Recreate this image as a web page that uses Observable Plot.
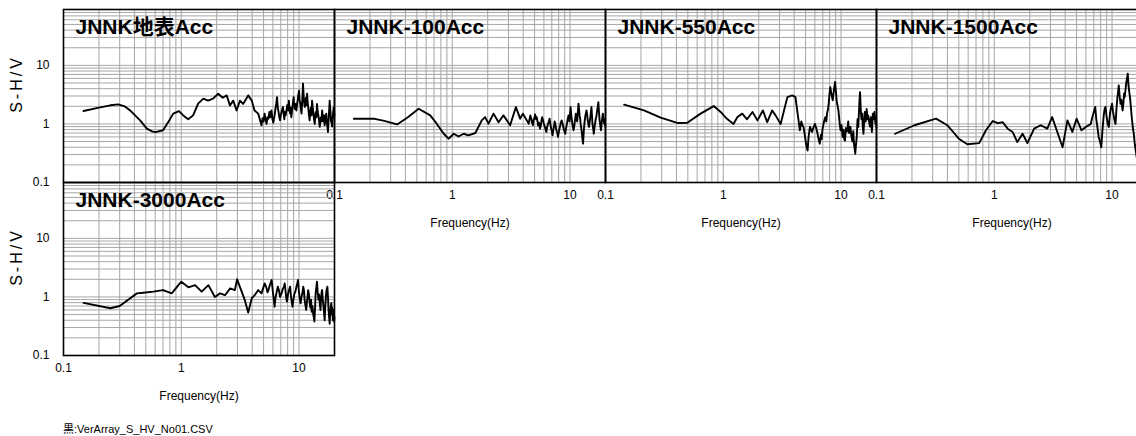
<!DOCTYPE html>
<html><head><meta charset="utf-8">
<script src="https://cdn.jsdelivr.net/npm/d3@7"></script>
<script src="https://cdn.jsdelivr.net/npm/@observablehq/plot@0.6"></script>
<style>
html,body{margin:0;padding:0;background:#fff;overflow:hidden;}
#wrap{position:relative;width:1136px;height:436px;overflow:hidden;font-family:"Liberation Sans","Noto Sans CJK JP",sans-serif;}
#caption{position:absolute;left:63px;top:420px;font-size:11px;color:#000;font-family:"Liberation Sans","Noto Sans CJK JP",sans-serif;}
</style></head><body>
<div id="wrap"><div id="caption"></div></div>
<script>
// ---- text ----
const panelNames = ["JNNK地表Acc", "JNNK-100Acc", "JNNK-550Acc", "JNNK-1500Acc", "JNNK-3000Acc"];
const xLabel = "Frequency(Hz)";
const yLabel = "S-H/V";
const captionText = "黒:VerArray_S_HV_No01.CSV";
const xTicks = [0.1, 1, 10];
const xTickLabels = ["0.1", "1", "10"];
const yTicks = [0.1, 1, 10];
const yTickLabels = ["0.1", "1", "10"];
const xDomain = [0.1, 20];
const yDomain = [0.1, 90];

// ---- series: [frequency (Hz), S-H/V] ----
const surface = [[0.148,1.66],[0.2,1.9],[0.25,2.08],[0.292,2.16],[0.33,2.0],[0.368,1.7],[0.392,1.5],[0.447,1.15],[0.51,0.83],[0.57,0.74],[0.617,0.73],[0.7,0.78],[0.776,1.08],[0.855,1.5],[0.955,1.66],[1.04,1.4],[1.146,1.2],[1.26,1.4],[1.39,2.22],[1.54,2.7],[1.69,2.5],[1.86,2.7],[2.06,3.28],[2.25,2.8],[2.43,3.07],[2.59,2.07],[2.76,2.5],[2.95,1.7],[3.15,2.5],[3.35,2.2],[3.7,3.07],[3.97,2.5],[4.19,1.7],[4.5,1.5],
[4.8,0.95],[4.9,1.25],[5.0,1.1],[5.1,1.5],[5.2,1.2],[5.3,1.0],[5.4,1.3],[5.5,1.23],[5.6,1.6],[5.7,1.3],[5.83,1.7],[5.95,1.2],[6.05,1.05],[6.2,1.4],[6.3,1.8],[6.4,2.2],[6.5,2.87],[6.6,1.9],[6.7,1.6],[6.8,1.3],[6.9,1.15],[7.0,1.4],[7.15,1.7],[7.3,1.95],[7.4,1.5],[7.5,1.2],[7.6,1.6],[7.7,1.4],[7.85,1.8],[7.95,2.1],[8.1,1.7],[8.2,2.5],[8.3,1.8],[8.4,1.5],[8.5,1.9],[8.6,1.3],[8.7,1.6],[8.8,2.0],[8.9,2.4],[9.0,2.87],[9.1,2.0],[9.25,1.8],[9.35,2.2],[9.5,1.7],[9.6,2.1],[9.75,2.6],[9.85,3.1],[10,3.7],[10.1,2.6],[10.25,2.2],[10.4,1.7],[10.5,1.5],[10.6,2.2],[10.7,3.0],[10.8,4.9],[10.9,3.5],[11.0,2.6],[11.1,2.1],[11.2,1.95],[11.35,2.4],[11.45,2.8],[11.6,2.1],[11.7,3.3],[11.85,2.3],[12.0,1.8],[12.15,1.4],[12.3,1.15],[12.45,1.6],[12.6,1.9],[12.75,1.4],[12.9,2.5],[13.1,1.8],[13.25,1.5],[13.4,1.2],[13.6,1.0],[13.75,1.4],[13.9,1.6],[14.05,1.3],[14.2,2.2],[14.4,1.6],[14.6,1.4],[14.8,1.1],[15,0.89],[15.2,1.2],[15.35,1.3],[15.5,1.1],[15.7,1.7],[15.9,1.3],[16.1,1.1],[16.3,1.4],[16.5,0.95],[16.75,1.2],[17.0,1.5],[17.3,1.0],[17.6,0.73],[17.75,1.0],[17.9,1.4],[18.05,1.8],[18.2,2.5],[18.35,1.9],[18.5,1.6],[18.65,1.1],[18.8,1.23],[18.95,1.0],[19.1,0.9],[19.3,1.3],[19.5,1.6],[19.65,1.9],[19.8,1.3],[20,1.5]];
const depth100 = [[0.146,1.23],[0.215,1.23],[0.27,1.12],[0.34,0.98],[0.42,1.3],[0.518,1.82],[0.65,1.4],[0.74,1.0],[0.846,0.68],[0.93,0.56],[1.03,0.68],[1.13,0.61],[1.25,0.68],[1.37,0.64],[1.57,0.70],[1.78,1.15],[1.9,1.31],[2.03,1.01],[2.24,1.5],[2.47,1.07],[2.72,1.4],[3.1,0.95],[3.47,1.94],[3.77,1.23],[3.98,1.5],
[4.46,1.01],[4.55,1.25],[4.6,1.4],[4.7,1.2],[4.75,1.05],[4.85,0.95],[4.9,1.15],[5.0,1.3],[5.05,1.45],[5.15,1.2],[5.2,1.31],[5.3,1.1],[5.35,0.95],[5.45,1.05],[5.55,0.83],[5.65,0.95],[5.7,1.1],[5.8,1.3],[5.9,1.15],[6.0,1.0],[6.1,0.9],[6.2,0.8],[6.3,0.73],[6.4,0.9],[6.5,1.0],[6.6,1.1],[6.7,1.23],[6.8,1.0],[6.9,0.85],[7.0,0.75],[7.1,0.64],[7.2,0.78],[7.3,0.9],[7.4,1.1],[7.5,1.0],[7.6,0.85],[7.7,0.75],[7.8,0.7],[7.9,0.6],[8.05,0.75],[8.2,0.9],[8.35,1.05],[8.5,1.15],[8.65,1.0],[8.8,0.85],[8.95,0.75],[9.1,0.68],[9.25,0.85],[9.4,1.0],[9.55,1.2],[9.7,1.4],[9.8,1.2],[9.9,1.1],[10.0,1.5],[10.1,1.95],[10.25,1.4],[10.4,1.1],[10.55,0.9],[10.7,0.78],[10.85,0.9],[10.95,1.05],[11.1,1.3],[11.2,1.5],[11.35,1.25],[11.5,1.1],[11.65,1.6],[11.8,2.22],[11.95,1.7],[12.05,1.4],[12.2,1.2],[12.3,1.0],[12.45,0.85],[12.6,0.7],[12.75,0.55],[12.9,0.46],[13.1,0.8],[13.3,1.1],[13.5,1.4],[13.8,1.7],[13.95,1.45],[14.1,1.2],[14.3,1.0],[14.5,0.89],[14.7,1.1],[14.85,1.3],[15.05,1.6],[15.2,1.95],[15.35,1.4],[15.5,1.0],[15.7,0.85],[15.9,0.68],[16.1,0.85],[16.3,1.0],[16.5,1.2],[16.7,1.31],[16.85,1.5],[17.0,1.7],[17.2,2.0],[17.4,2.36],[17.6,1.6],[17.8,1.2],[18.05,0.95],[18.3,0.78],[18.45,0.9],[18.6,1.1],[18.8,1.3],[19,1.5],[19.25,1.2],[19.5,1.0],[19.75,1.2],[20,0.89]];
const depth550 = [[0.144,2.13],[0.212,1.71],[0.294,1.28],[0.407,1.04],[0.495,1.05],[0.642,1.5],[0.83,2.02],[0.95,1.6],[1.05,1.28],[1.22,1.0],[1.32,1.31],[1.45,1.5],[1.59,1.2],[1.77,1.6],[1.95,1.15],[2.17,1.7],[2.36,1.07],[2.6,1.7],[2.78,1.4],[3.07,1.0],[3.5,2.87],[3.85,3.07],[4.1,2.87],
[4.47,0.78],[4.6,1.1],[4.7,0.95],[4.8,0.89],[4.95,0.6],[5.05,0.45],[5.2,0.35],[5.3,0.6],[5.45,0.9],[5.55,0.8],[5.67,0.73],[5.8,0.85],[6.0,1.0],[6.15,0.85],[6.3,0.7],[6.45,0.55],[6.6,0.46],[6.75,0.65],[6.85,0.55],[6.95,0.8],[7.1,1.0],[7.25,1.2],[7.35,1.3],[7.5,1.1],[7.6,1.5],[7.75,1.8],[7.85,2.2],[7.95,3.0],[8.1,4.25],[8.3,3.2],[8.5,2.53],[8.7,3.8],[8.9,5.2],[9.05,3.5],[9.2,2.4],[9.5,1.7],[9.7,1.1],[9.9,0.78],[10.1,0.95],[10.3,0.6],[10.5,0.8],[10.65,0.55],[10.8,0.52],[11.0,0.85],[11.3,0.75],[11.5,1.1],[11.7,0.7],[12,0.89],[12.2,0.65],[12.5,0.5],[12.7,0.75],[12.9,0.45],[13.2,0.31],[13.4,0.45],[13.6,0.6],[13.8,1.2],[14,0.89],[14.2,1.6],[14.35,2.6],[14.5,3.5],[14.7,1.8],[14.9,1.2],[15.1,1.5],[15.3,0.9],[15.5,0.68],[15.7,1.1],[15.9,1.6],[16.2,1.1],[16.5,1.8],[16.8,1.2],[17,1.4],[17.3,1.1],[17.6,0.9],[17.9,1.3],[18.3,0.73],[18.6,1.5],[18.9,1.2],[19.2,1.6],[19.6,1.0],[19.8,1.3],[20,0.85]];
const depth1500 = [[0.144,0.68],[0.21,0.95],[0.32,1.23],[0.4,0.95],[0.5,0.56],[0.59,0.45],[0.745,0.47],[0.85,0.78],[0.97,1.12],[1.07,1.03],[1.18,1.07],[1.3,0.83],[1.43,0.73],[1.57,0.49],[1.74,0.68],[1.91,0.47],[2.18,0.83],[2.48,0.95],[2.82,0.83],[3.1,1.31],[3.43,0.73],[3.8,0.4],[4.18,1.15],[4.6,0.73],[5.0,1.23],[5.5,0.78],[6.0,0.89],
[6.6,1.0],[6.8,1.3],[7.0,1.6],[7.2,1.95],[7.35,1.2],[7.5,0.9],[7.7,0.6],[7.9,0.5],[8.1,0.4],[8.3,0.8],[8.5,1.4],[8.65,1.8],[8.8,1.95],[9.0,1.3],[9.2,1.0],[9.4,0.89],[9.6,1.5],[9.8,1.9],[10,2.22],[10.2,1.6],[10.45,1.2],[10.7,1.0],[10.9,1.8],[11.1,2.8],[11.25,3.5],[11.4,4.55],[11.6,3.0],[11.8,2.2],[12.0,2.6],[12.15,2.0],[12.3,1.7],[12.5,2.3],[12.65,3.3],[12.8,2.87],[13.0,3.8],[13.2,5.0],[13.4,6.0],[13.6,7.2],[13.8,4.5],[14.0,3.5],[14.2,2.87],[14.5,1.8],[14.7,1.3],[14.9,1.0],[15.1,0.8],[15.3,0.68],[15.6,0.45],[15.9,0.35],[16.2,0.27],[16.6,0.5],[17,0.6],[17.5,0.8],[18,0.9],[18.5,0.6],[19,0.7],[19.5,0.9],[20,0.8]];
const depth3000 = [[0.148,0.79],[0.25,0.64],[0.3,0.7],[0.42,1.15],[0.476,1.18],[0.58,1.23],[0.7,1.31],[0.83,1.15],[1.0,1.82],[1.15,1.46],[1.31,1.59],[1.49,1.23],[1.7,1.59],[1.93,1.0],[2.13,1.15],[2.35,1.07],[2.6,1.4],[2.85,1.31],[2.98,2.0],[3.18,1.4],[3.46,0.89],[3.7,0.54],[3.97,0.95],[4.2,1.07],[4.5,1.31],
[4.8,1.15],[4.95,1.4],[5.1,1.7],[5.25,1.5],[5.4,1.2],[5.5,1.31],[5.65,1.6],[5.85,1.95],[6.0,1.2],[6.1,0.9],[6.2,0.68],[6.3,0.95],[6.45,1.2],[6.6,1.5],[6.75,1.3],[6.9,1.0],[7.1,1.15],[7.3,1.4],[7.45,1.5],[7.55,1.7],[7.7,1.2],[7.8,0.95],[7.9,0.83],[8.05,1.1],[8.2,1.3],[8.4,1.5],[8.55,1.0],[8.7,0.8],[8.8,0.68],[8.95,0.9],[9.1,1.1],[9.3,1.23],[9.5,1.5],[9.65,1.7],[9.8,1.95],[9.95,1.3],[10.1,1.0],[10.3,0.78],[10.5,1.0],[10.7,1.2],[10.85,1.5],[11.0,1.31],[11.15,0.9],[11.3,0.75],[11.5,0.6],[11.65,0.8],[11.8,1.0],[11.95,1.3],[12.1,1.15],[12.3,0.8],[12.5,0.65],[12.65,0.9],[12.8,0.56],[13.0,0.7],[13.2,0.5],[13.35,0.45],[13.5,0.38],[13.7,0.7],[13.85,1.2],[14.05,1.5],[14.2,1.82],[14.4,1.2],[14.6,0.9],[14.8,1.1],[15,0.78],[15.2,0.6],[15.4,1.0],[15.55,1.2],[15.7,1.31],[15.9,0.9],[16.1,0.7],[16.3,0.55],[16.5,0.4],[16.7,0.7],[16.9,1.0],[17.1,1.3],[17.4,1.5],[17.6,1.0],[17.8,0.6],[18.0,0.45],[18.2,0.35],[18.4,0.55],[18.6,0.7],[18.8,0.78],[19.0,0.5],[19.2,0.65],[19.35,0.4],[19.5,0.52],[19.7,0.6],[19.85,0.38],[20,0.45]];
const seriesList = [surface, depth100, depth550, depth1500, depth3000];

// ---- layout ----
const FW = 271, FH = 173, ML = 63, MT = 9, MR = 10, MB = 60;
const layout = [
  {left: 63, top: 9, xAxis: false, yAxis: true},
  {left: 334, top: 9, xAxis: true, yAxis: false},
  {left: 605, top: 9, xAxis: true, yAxis: false},
  {left: 876, top: 9, xAxis: true, yAxis: false},
  {left: 63, top: 182, xAxis: true, yAxis: true}
];
const FONT = '"Liberation Sans","Noto Sans CJK JP",sans-serif';
const xGrid = d3.scaleLog().domain(xDomain).ticks(40);
const yGrid = d3.scaleLog().domain(yDomain).ticks(40);

function panel(name, series, cfg) {
  const marks = [
    Plot.ruleX(xGrid, {stroke: "#a6a6a6", strokeWidth: 1}),
    Plot.ruleY(yGrid, {stroke: "#a6a6a6", strokeWidth: 1}),
    Plot.line(series, {x: d => d[0], y: d => d[1], stroke: "#000", strokeWidth: 1.9, strokeLinejoin: "round"}),
    Plot.frame({stroke: "#000", strokeWidth: 1.6}),
    Plot.text([name], {frameAnchor: "top-left", dx: 12, dy: 10, lineAnchor: "top", textAnchor: "start",
      fontSize: 21, fontWeight: "bold", fill: "#000"})
  ];
  if (cfg.xAxis) {
    marks.push(
      Plot.axisX({ticks: xTicks, tickFormat: d => xTickLabels[xTicks.indexOf(d)], tickSize: 0, tickPadding: 8, fontSize: 12, label: null}),
      Plot.text([xLabel], {frameAnchor: "bottom", dy: 41, lineAnchor: "middle", textAnchor: "middle", fontSize: 12, fill: "#000"})
    );
  }
  if (cfg.yAxis) {
    marks.push(
      Plot.axisY({ticks: yTicks, tickFormat: d => yTickLabels[yTicks.indexOf(d)], tickSize: 0, tickPadding: 14, fontSize: 12, label: null}),
      Plot.text([yLabel], {frameAnchor: "left", dx: -47, dy: -12, rotate: -90, lineAnchor: "middle", textAnchor: "middle",
        fontSize: 16, fill: "#000"})
    );
  }
  return Plot.plot({
    width: ML + FW + MR, height: MT + FH + MB,
    marginLeft: ML, marginRight: MR, marginTop: MT, marginBottom: MB,
    x: {type: "log", domain: xDomain, axis: null},
    y: {type: "log", domain: yDomain, axis: null},
    style: {background: "transparent", overflow: "visible", fontFamily: FONT, fontSize: "12px", color: "#000"},
    marks
  });
}

const wrap = document.getElementById("wrap");
panelNames.forEach((name, i) => {
  const cfg = layout[i];
  const svg = panel(name, seriesList[i], cfg);
  svg.style.position = "absolute";
  svg.style.left = (cfg.left - ML) + "px";
  svg.style.top = (cfg.top - MT) + "px";
  svg.style.maxWidth = "none";
  d3.select(svg).selectAll("text").filter(function() { return this.textContent === yLabel; })
    .attr("letter-spacing", "3px");
  wrap.appendChild(svg);
});
document.getElementById("caption").textContent = captionText;
</script>
</body></html>
